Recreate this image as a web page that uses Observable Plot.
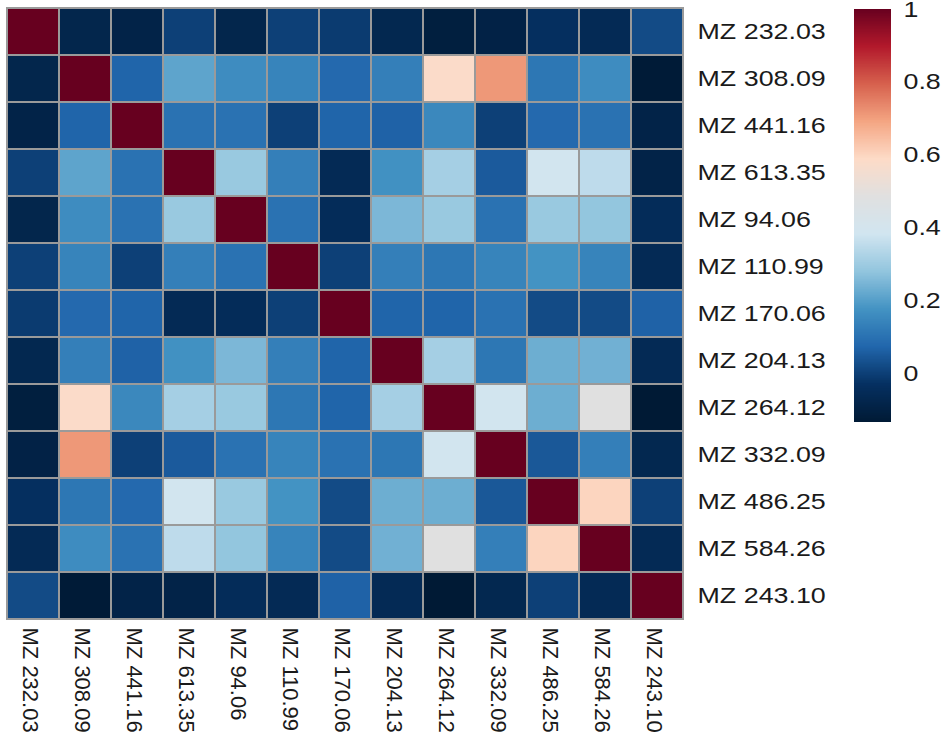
<!DOCTYPE html>
<html><head><meta charset="utf-8">
<script src="https://cdn.jsdelivr.net/npm/d3@7"></script>
<script src="https://cdn.jsdelivr.net/npm/@observablehq/plot@0.6"></script>
<style>
body{margin:0;background:#fff;}
#wrap{position:relative;width:944px;height:735px;font-family:"Liberation Sans",Arial,sans-serif;}
#wrap svg{position:absolute;top:0;}
</style></head><body><div id="wrap"></div>
<script>
const labels = ["MZ 232.03","MZ 308.09","MZ 441.16","MZ 613.35","MZ 94.06","MZ 110.99","MZ 170.06","MZ 204.13","MZ 264.12","MZ 332.09","MZ 486.25","MZ 584.26","MZ 243.10"];
const values = [
  [1, -0.08, -0.09, 0.0, -0.08, 0.0, -0.01, -0.07, -0.11, -0.095, -0.035, -0.06, 0.02],
  [-0.08, 1, 0.07, 0.21, 0.16, 0.14, 0.08, 0.13, 0.58, 0.71, 0.11, 0.16, -0.13],
  [-0.09, 0.07, 1, 0.1, 0.1, 0.0, 0.07, 0.065, 0.15, 0.0, 0.08, 0.1, -0.09],
  [0.0, 0.21, 0.1, 1, 0.29, 0.13, -0.06, 0.17, 0.31, 0.05, 0.39, 0.35, -0.09],
  [-0.08, 0.16, 0.1, 0.29, 1, 0.1, -0.05, 0.25, 0.29, 0.1, 0.29, 0.28, -0.05],
  [0.0, 0.14, 0.0, 0.13, 0.1, 1, 0.0, 0.13, 0.11, 0.14, 0.175, 0.14, -0.06],
  [-0.01, 0.08, 0.07, -0.06, -0.05, 0.0, 1, 0.07, 0.07, 0.1, 0.02, 0.02, 0.065],
  [-0.07, 0.13, 0.065, 0.17, 0.25, 0.13, 0.07, 1, 0.31, 0.11, 0.23, 0.235, -0.06],
  [-0.11, 0.58, 0.15, 0.31, 0.29, 0.11, 0.07, 0.31, 1, 0.39, 0.23, 0.485, -0.134],
  [-0.095, 0.71, 0.0, 0.05, 0.1, 0.14, 0.1, 0.11, 0.39, 1, 0.045, 0.13, -0.07],
  [-0.035, 0.11, 0.08, 0.39, 0.29, 0.175, 0.02, 0.23, 0.23, 0.045, 1, 0.6, 0.0],
  [-0.06, 0.16, 0.1, 0.35, 0.28, 0.14, 0.02, 0.235, 0.485, 0.13, 0.6, 1, -0.06],
  [0.02, -0.13, -0.09, -0.09, -0.05, -0.06, 0.065, -0.06, -0.134, -0.07, 0.0, -0.06, 1]
];
const barTicks = [0, 0.2, 0.4, 0.6, 0.8, 1];
const colorMin = -0.134, colorMax = 1;

const cells = labels.flatMap((r, i) => labels.map((c, j) => ({row: r, col: c, value: values[i][j]})));

const stops = d3.range(12).map(k => colorMin + k * (colorMax - colorMin) / 11);
const colorOpts = {
  type: "linear",
  domain: stops,
  range: ["#001a35","#053061","#2166ac","#4393c3","#92c5de","#d1e5f0","#e0e0e0","#fddbc7","#f4a582","#d6604d","#b2182b","#67001f"],
  interpolate: "rgb",
  clamp: true
};
const font = "Liberation Sans, Arial, sans-serif";

const main = Plot.plot({
  width: 944, height: 735,
  marginLeft: 4, marginTop: 8, marginRight: 258, marginBottom: 116,
  style: {fontFamily: font, background: "transparent", color: "#1a1a1a"},
  x: {domain: labels, padding: 0, label: null},
  y: {domain: labels, padding: 0, label: null},
  color: colorOpts,
  marks: [
    Plot.cell(cells, {x: "col", y: "row", fill: "value", stroke: "#9a9a9a", strokeWidth: 2, inset: 0}),
    Plot.axisY({anchor: "right", tickSize: 0, tickPadding: 11, fontSize: 22, label: null}),
    Plot.axisX({anchor: "bottom", tickSize: 0, tickPadding: 8, dx: -3, tickRotate: 90, fontSize: 22, label: null})
  ]
});

const bar = Plot.plot({
  width: 90, height: 431,
  marginLeft: 0, marginRight: 53, marginTop: 9, marginBottom: 9,
  style: {fontFamily: font, background: "transparent", color: "#1a1a1a"},
  x: {domain: [0, 1], axis: null},
  y: {domain: [colorMin, colorMax], label: null},
  color: colorOpts,
  marks: [
    Plot.rect(d3.range(colorMin, colorMax, 0.002), {x1: 0, x2: 1, y1: d => d, y2: d => Math.min(d + 0.008, colorMax), fill: d => d, shapeRendering: "crispEdges"}),
    Plot.axisY(barTicks, {anchor: "right", tickSize: 0, tickPadding: 12, fontSize: 22, tickFormat: d => String(d), label: null})
  ]
});
bar.style.left = "854px";

const wrap = document.getElementById("wrap");
wrap.appendChild(main);
wrap.appendChild(bar);

function stretch(svg, sx) {
  d3.select(svg).selectAll('[aria-label="y-axis tick label"] text').each(function() {
    const L = this.getComputedTextLength();
    if (L > 0) {
      this.setAttribute("textLength", (L * sx).toFixed(1));
      this.setAttribute("lengthAdjust", "spacingAndGlyphs");
    }
  });
}
stretch(main, 1.22);
stretch(bar, 1.22);
</script>
</body></html>
